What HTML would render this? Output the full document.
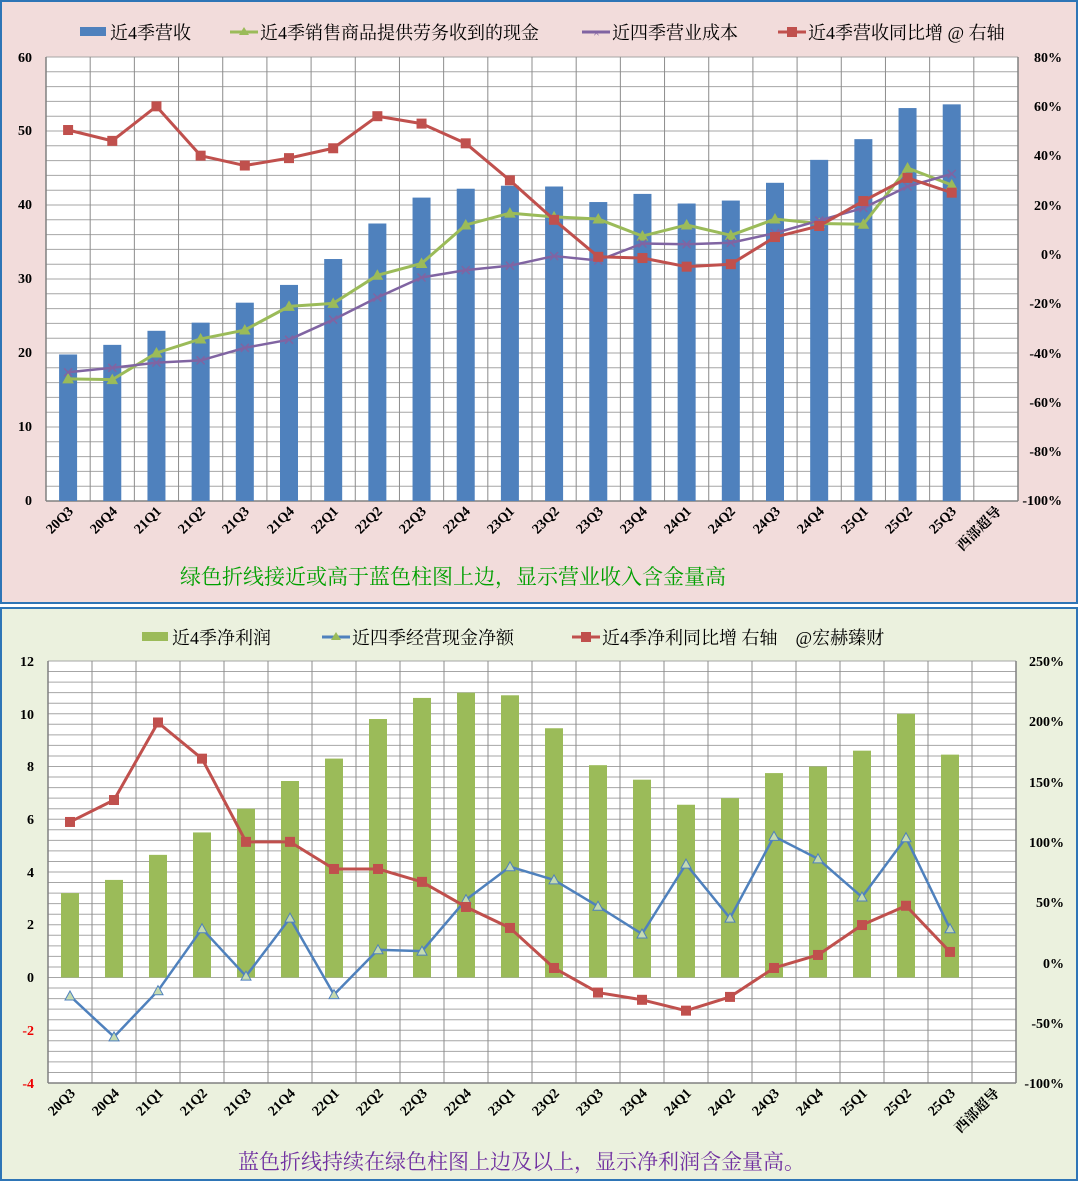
<!DOCTYPE html>
<html><head><meta charset="utf-8"><style>
body{margin:0;width:1080px;height:1182px;background:#fff;overflow:hidden;font-family:"Liberation Serif","Noto Serif CJK SC",serif}
svg text{font-family:"Liberation Serif","Noto Serif CJK SC",serif}
</style></head><body>
<svg id="s" width="1080" height="1182" xmlns="http://www.w3.org/2000/svg">
<rect x="1" y="1" width="1076" height="602" fill="#f2dcdb" stroke="#2e75b6" stroke-width="2"/>
<rect x="1" y="608" width="1076" height="572" fill="#ebf1de" stroke="#2e75b6" stroke-width="2"/>
<rect x="46" y="57" width="972" height="444" fill="#fff"/>
<rect x="48" y="661" width="968" height="422" fill="#fff"/>
<g id="g"></g>
<g font-size="18" fill="#000">
<rect x="80" y="27" width="26" height="9" fill="#4f81bd"/><text x="110" y="39">近4季营收</text>
<line x1="230" y1="32" x2="258" y2="32" stroke="#9bbb59" stroke-width="3"/><path d="M244 27 L249 35 L239 35Z" fill="#9bbb59"/><text x="260" y="39">近4季销售商品提供劳务收到的现金</text>
<line x1="582" y1="32" x2="610" y2="32" stroke="#8064a2" stroke-width="3"/><text x="593" y="37" font-size="12" fill="#8064a2">×</text><text x="612" y="39">近四季营业成本</text>
<line x1="778" y1="32" x2="806" y2="32" stroke="#c0504d" stroke-width="3"/><rect x="787" y="27" width="10" height="10" fill="#c0504d"/><text x="808" y="39">近4季营收同比增 @ 右轴</text>
<text x="180" y="584" fill="#00a000" font-size="21">绿色折线接近或高于蓝色柱图上边，显示营业收入含金量高</text>
<rect x="142" y="632" width="26" height="9" fill="#9bbb59"/><text x="172" y="644">近4季净利润</text>
<line x1="322" y1="637" x2="350" y2="637" stroke="#4f81bd" stroke-width="3"/><path d="M336 632 L341 640 L331 640Z" fill="#9bbb59"/><text x="352" y="644">近四季经营现金净额</text>
<line x1="572" y1="637" x2="600" y2="637" stroke="#c0504d" stroke-width="3"/><rect x="581" y="632" width="10" height="10" fill="#c0504d"/><text x="602" y="644">近4季净利同比增 右轴　@宏赫臻财</text>
<text x="238" y="1169" fill="#7030a0" font-size="21">蓝色折线持续在绿色柱图上边及以上，显示净利润含金量高。</text>
</g>
<g font-size="14" font-weight="bold" text-anchor="end">
<text x="32" y="62">60</text><text x="32" y="135">50</text><text x="32" y="209">40</text><text x="32" y="283">30</text><text x="32" y="357">20</text><text x="32" y="431">10</text><text x="32" y="505">0</text>
<text x="34" y="666">12</text><text x="34" y="719">10</text><text x="34" y="771">8</text><text x="34" y="824">6</text><text x="34" y="877">4</text><text x="34" y="929">2</text><text x="34" y="982">0</text><text x="34" y="1035" fill="#e00">-2</text><text x="34" y="1088" fill="#e00">-4</text>
</g>
<g font-size="14" font-weight="bold" text-anchor="end">
<text x="1062" y="62">80%</text><text x="1062" y="111">60%</text><text x="1062" y="160">40%</text><text x="1062" y="210">20%</text><text x="1062" y="259">0%</text><text x="1062" y="308">-20%</text><text x="1062" y="358">-40%</text><text x="1062" y="407">-60%</text><text x="1062" y="456">-80%</text><text x="1062" y="505">-100%</text>
<text x="1064" y="666">250%</text><text x="1064" y="726">200%</text><text x="1064" y="787">150%</text><text x="1064" y="847">100%</text><text x="1064" y="907">50%</text><text x="1064" y="968">0%</text><text x="1064" y="1028">-50%</text><text x="1064" y="1088">-100%</text>
</g>
<g font-size="14" font-weight="bold" text-anchor="end" id="xl">
<text transform="translate(74,512) rotate(-45)">20Q3</text>
<text transform="translate(118,512) rotate(-45)">20Q4</text>
<text transform="translate(162,512) rotate(-45)">21Q1</text>
<text transform="translate(206,512) rotate(-45)">21Q2</text>
<text transform="translate(250,512) rotate(-45)">21Q3</text>
<text transform="translate(295,512) rotate(-45)">21Q4</text>
<text transform="translate(339,512) rotate(-45)">22Q1</text>
<text transform="translate(383,512) rotate(-45)">22Q2</text>
<text transform="translate(427,512) rotate(-45)">22Q3</text>
<text transform="translate(471,512) rotate(-45)">22Q4</text>
<text transform="translate(515,512) rotate(-45)">23Q1</text>
<text transform="translate(560,512) rotate(-45)">23Q2</text>
<text transform="translate(604,512) rotate(-45)">23Q3</text>
<text transform="translate(648,512) rotate(-45)">23Q4</text>
<text transform="translate(692,512) rotate(-45)">24Q1</text>
<text transform="translate(736,512) rotate(-45)">24Q2</text>
<text transform="translate(781,512) rotate(-45)">24Q3</text>
<text transform="translate(825,512) rotate(-45)">24Q4</text>
<text transform="translate(869,512) rotate(-45)">25Q1</text>
<text transform="translate(913,512) rotate(-45)">25Q2</text>
<text transform="translate(957,512) rotate(-45)">25Q3</text>
<text transform="translate(1002,512) rotate(-45)">西部超导</text>
<text transform="translate(76,1094) rotate(-45)">20Q3</text>
<text transform="translate(120,1094) rotate(-45)">20Q4</text>
<text transform="translate(164,1094) rotate(-45)">21Q1</text>
<text transform="translate(208,1094) rotate(-45)">21Q2</text>
<text transform="translate(252,1094) rotate(-45)">21Q3</text>
<text transform="translate(296,1094) rotate(-45)">21Q4</text>
<text transform="translate(340,1094) rotate(-45)">22Q1</text>
<text transform="translate(384,1094) rotate(-45)">22Q2</text>
<text transform="translate(428,1094) rotate(-45)">22Q3</text>
<text transform="translate(472,1094) rotate(-45)">22Q4</text>
<text transform="translate(516,1094) rotate(-45)">23Q1</text>
<text transform="translate(560,1094) rotate(-45)">23Q2</text>
<text transform="translate(604,1094) rotate(-45)">23Q3</text>
<text transform="translate(648,1094) rotate(-45)">23Q4</text>
<text transform="translate(692,1094) rotate(-45)">24Q1</text>
<text transform="translate(736,1094) rotate(-45)">24Q2</text>
<text transform="translate(780,1094) rotate(-45)">24Q3</text>
<text transform="translate(824,1094) rotate(-45)">24Q4</text>
<text transform="translate(868,1094) rotate(-45)">25Q1</text>
<text transform="translate(912,1094) rotate(-45)">25Q2</text>
<text transform="translate(956,1094) rotate(-45)">25Q3</text>
<text transform="translate(1000,1094) rotate(-45)">西部超导</text>
</g>
</svg>
<script>
var g=document.getElementById('g'),h='';
function L(x1,y1,x2,y2,c,w){h+='<line x1="'+x1+'" y1="'+y1+'" x2="'+x2+'" y2="'+y2+'" stroke="'+c+'" stroke-width="'+w+'"/>';}
function P(pts,c,w){h+='<polyline points="'+pts.map(p=>p.join(',')).join(' ')+'" fill="none" stroke="'+c+'" stroke-width="'+w+'" stroke-linejoin="round"/>';}
function chart(o){
 var cw=(o.r-o.l)/22;
 for(var i=0;i<=o.nh;i++){var y=o.t+(o.b-o.t)*i/o.nh;L(o.l,y,o.r,y,'#a6a6a6',1);}
 for(var i=0;i<=22;i++){var x=o.l+cw*i;L(x,o.t,x,o.b,'#8c8c8c',1);}
 L(o.l,o.t,o.l,o.b,'#808080',1.5);L(o.r,o.t,o.r,o.b,'#808080',1.5);L(o.l,o.b,o.r,o.b,'#808080',1.5);
 var yl=v=>o.t+(o.lmax-v)*(o.b-o.t)/(o.lmax-o.lmin), yr=v=>o.t+(o.rmax-v)*(o.b-o.t)/(o.rmax-o.rmin), cx=i=>o.l+cw*(i+.5);
 var y0=yl(0);
 o.bars.forEach((v,i)=>{h+='<rect x="'+(cx(i)-9)+'" y="'+yl(v)+'" width="18" height="'+(y0-yl(v))+'" fill="'+o.bc+'"/>';});
 o.lines.forEach(s=>{var pts=s.d.map((v,i)=>[cx(i),(s.r?yr:yl)(v)]);P(pts,s.c,s.w);
  pts.forEach(p=>{if(s.m=='sq')h+='<rect x="'+(p[0]-5)+'" y="'+(p[1]-5)+'" width="10" height="10" fill="'+s.c+'"/>';
   else if(s.m=='tri')h+='<path d="M'+p[0]+' '+(p[1]-5)+' L'+(p[0]+5)+' '+(p[1]+4)+' L'+(p[0]-5)+' '+(p[1]+4)+'Z" fill="'+s.f+'" stroke="'+s.c+'" stroke-width="1"/>';
   else if(s.m=='x')h+='<path d="M'+(p[0]-4)+' '+(p[1]-4)+'L'+(p[0]+4)+' '+(p[1]+4)+'M'+(p[0]+4)+' '+(p[1]-4)+'L'+(p[0]-4)+' '+(p[1]+4)+'" stroke="'+s.c+'" stroke-width="1.5"/>';});});
}
chart({l:46,r:1018,t:57,b:501,nh:30,lmax:60,lmin:0,rmax:80,rmin:-100,bc:'#4f81bd',
bars:[19.8,21.1,23.0,24.1,26.8,29.2,32.7,37.5,41.0,42.2,42.6,42.5,40.4,41.5,40.2,40.6,43.0,46.1,48.9,53.1,53.6],
lines:[{d:[16.5,16.4,20.0,21.9,23.1,26.3,26.7,30.5,32.1,37.3,38.9,38.4,38.1,35.8,37.3,35.9,38.1,37.5,37.4,45.0,42.7],c:'#9bbb59',w:3,m:'tri',f:'#9bbb59'},
{d:[17.4,18.0,18.7,19.0,20.7,21.8,24.5,27.5,30.2,31.2,31.8,33.1,32.5,34.8,34.7,34.9,36.2,37.9,39.6,42.5,44.2],c:'#8064a2',w:2.5,m:'x'},
{d:[50.4,46,60,40,36,39,43,56,53,45,30,14,-1,-1.5,-5,-4,7,11.5,21.6,31,25],r:1,c:'#c0504d',w:3,m:'sq'}]});
chart({l:48,r:1016,t:661,b:1083,nh:40,lmax:12,lmin:-4,rmax:250,rmin:-100,bc:'#9bbb59',
bars:[3.2,3.7,4.65,5.5,6.4,7.45,8.3,9.8,10.6,10.8,10.7,9.45,8.05,7.5,6.55,6.8,7.75,8.0,8.6,10.0,8.45],
lines:[{d:[-0.7,-2.25,-0.5,1.85,0.05,2.25,-0.65,1.05,1.0,2.95,4.2,3.7,2.7,1.65,4.3,2.25,5.35,4.5,3.05,5.3,1.85],c:'#4f81bd',w:2.5,m:'tri',f:'#c5dbb0'},
{d:[116.5,134.7,199,169,100,100,77.5,77.5,66.8,46,28.6,-4.6,-25,-31,-40,-28.6,-4.6,6.2,31,47,8.7],r:1,c:'#c0504d',w:3,m:'sq'}]});
g.innerHTML=h;
</script>
</body></html>
